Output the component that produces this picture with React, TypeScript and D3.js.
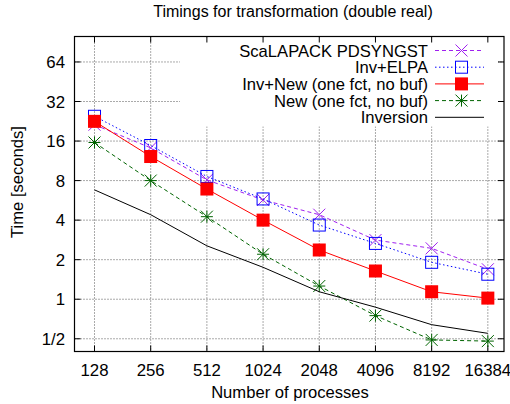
import React, { useEffect, useRef } from "react";
import * as d3 from "d3";

// processes (x values)
const procs = [128, 256, 512, 1024, 2048, 4096, 8192, 16384];

// timings in seconds
const scalapack = [21.3, 14.2, 8.1, 5.7, 4.4, 2.82, 2.44, 1.69];
const invElpa = [24.7, 14.8, 8.6, 5.8, 3.67, 2.66, 1.91, 1.55];
const invNew = [22.6, 12.2, 6.9, 4.0, 2.37, 1.64, 1.14, 1.02];
const newOnly = [15.6, 8.0, 4.25, 2.2, 1.26, 0.75, 0.49, 0.48];
const inversion = [6.8, 4.4, 2.55, 1.75, 1.14, 0.87, 0.64, 0.55];

const yTicks = [0.5, 1, 2, 4, 8, 16, 32, 64];
const yTickLabels = ["1/2", "1", "2", "4", "8", "16", "32", "64"];

interface Series {
  name: string;
  values: number[];
  color: string;
  dash: string | null;
  marker: "cross" | "box" | "fbox" | "star" | "none";
}

const series: Series[] = [
  { name: "ScaLAPACK PDSYNGST", values: scalapack, color: "#a020f0", dash: "4,3", marker: "cross" },
  { name: "Inv+ELPA", values: invElpa, color: "#0000ff", dash: "1.5,2.5", marker: "box" },
  { name: "Inv+New (one fct, no buf)", values: invNew, color: "#ff0000", dash: null, marker: "fbox" },
  { name: "New (one fct, no buf)", values: newOnly, color: "#006400", dash: "4,3", marker: "star" },
  { name: "Inversion", values: inversion, color: "#000000", dash: null, marker: "none" },
];

const W = 510;
const H = 404;
const FONT = "'Liberation Sans', Arial, sans-serif";

const drawMarker = (
  g: d3.Selection<SVGGElement, unknown, null, undefined>,
  kind: Series["marker"],
  x: number,
  y: number,
  color: string
) => {
  const r = 6;
  if (kind === "cross") {
    g.append("path")
      .attr("d", `M${x - r},${y - r}L${x + r},${y + r}M${x - r},${y + r}L${x + r},${y - r}`)
      .attr("stroke", color)
      .attr("fill", "none");
  } else if (kind === "box") {
    g.append("rect")
      .attr("x", x - r)
      .attr("y", y - r)
      .attr("width", 2 * r)
      .attr("height", 2 * r)
      .attr("stroke", color)
      .attr("fill", "none");
  } else if (kind === "fbox") {
    g.append("rect")
      .attr("x", x - 6.5)
      .attr("y", y - 6.5)
      .attr("width", 13)
      .attr("height", 13)
      .attr("fill", color);
  } else if (kind === "star") {
    g.append("path")
      .attr(
        "d",
        `M${x - r},${y - r}L${x + r},${y + r}M${x - r},${y + r}L${x + r},${y - r}M${x - r},${y}L${x + r},${y}M${x},${y - r}L${x},${y + r}`
      )
      .attr("stroke", color)
      .attr("fill", "none");
  }
};

const Chart: React.FC = () => {
  const ref = useRef<SVGSVGElement | null>(null);

  useEffect(() => {
    const left = 74.5;
    const right = 504;
    const top = 36.5;
    const bottom = 351.5;

    const x = d3.scaleLog().base(2).domain([100, 20000]).range([left, right]);
    const y = d3.scaleLog().base(2).domain([0.4, 100]).range([bottom, top]);

    const svg = d3.select(ref.current);
    svg.selectAll("*").remove();

    // grid
    const grid = svg.append("g").attr("stroke", "#555").attr("stroke-dasharray", "1,2").attr("stroke-width", 1);
    procs.forEach((p) => {
      grid.append("line").attr("x1", x(p)).attr("x2", x(p)).attr("y1", top).attr("y2", bottom);
    });
    yTicks.forEach((t) => {
      grid.append("line").attr("x1", left).attr("x2", right).attr("y1", y(t)).attr("y2", y(t));
    });

    // opaque key area
    svg.append("rect").attr("x", 180).attr("y", top + 1).attr("width", 318).attr("height", 89).attr("fill", "#fff");

    // ticks on all four sides
    const ticks = svg.append("g").attr("stroke", "#000").attr("stroke-width", 1);
    procs.forEach((p) => {
      ticks.append("line").attr("x1", x(p)).attr("x2", x(p)).attr("y1", bottom).attr("y2", bottom - 6);
      ticks.append("line").attr("x1", x(p)).attr("x2", x(p)).attr("y1", top).attr("y2", top + 6);
    });
    yTicks.forEach((t) => {
      ticks.append("line").attr("x1", left).attr("x2", left + 6).attr("y1", y(t)).attr("y2", y(t));
      ticks.append("line").attr("x1", right).attr("x2", right - 6).attr("y1", y(t)).attr("y2", y(t));
    });

    // tick labels
    svg
      .append("g")
      .selectAll("text")
      .data(procs)
      .join("text")
      .attr("x", (d) => x(d))
      .attr("y", 376)
      .attr("text-anchor", "middle")
      .attr("font-family", FONT)
      .attr("font-size", 16.8)
      .text((d) => String(d));

    svg
      .append("g")
      .selectAll("text")
      .data(yTicks)
      .join("text")
      .attr("x", 65)
      .attr("y", (d) => y(d) + 6)
      .attr("text-anchor", "end")
      .attr("font-family", FONT)
      .attr("font-size", 16.8)
      .text((_, i) => yTickLabels[i]);

    // series
    const lineGen = d3
      .line<number>()
      .x((_, i) => x(procs[i]))
      .y((d) => y(d));

    series.forEach((s) => {
      const g = svg.append("g");
      g.append("path")
        .attr("d", lineGen(s.values))
        .attr("fill", "none")
        .attr("stroke", s.color)
        .attr("stroke-width", 1)
        .attr("stroke-dasharray", s.dash);
      s.values.forEach((v, i) => drawMarker(g, s.marker, x(procs[i]), y(v), s.color));
    });

    // legend
    const legend = svg.append("g");
    series.forEach((s, i) => {
      const ly = 50.5 + i * 16.7;
      legend
        .append("text")
        .attr("x", 428)
        .attr("y", ly + 6)
        .attr("text-anchor", "end")
        .attr("font-family", FONT)
        .attr("font-size", 16.6)
        .text(s.name);
      legend
        .append("line")
        .attr("x1", 435)
        .attr("x2", 484)
        .attr("y1", ly)
        .attr("y2", ly)
        .attr("stroke", s.color)
        .attr("stroke-dasharray", s.dash);
      drawMarker(legend, s.marker, 461.5, ly, s.color);
    });

    // frame
    svg
      .append("rect")
      .attr("x", left)
      .attr("y", top)
      .attr("width", right - left)
      .attr("height", bottom - top)
      .attr("fill", "none")
      .attr("stroke", "#000")
      .attr("stroke-width", 1.2);

    // titles
    svg
      .append("text")
      .attr("x", 293)
      .attr("y", 17)
      .attr("text-anchor", "middle")
      .attr("font-family", FONT)
      .attr("font-size", 16)
      .text("Timings for transformation (double real)");

    svg
      .append("text")
      .attr("x", 290)
      .attr("y", 398)
      .attr("text-anchor", "middle")
      .attr("font-family", FONT)
      .attr("font-size", 16.6)
      .text("Number of processes");

    svg
      .append("text")
      .attr("transform", "translate(23,182) rotate(-90)")
      .attr("text-anchor", "middle")
      .attr("font-family", FONT)
      .attr("font-size", 16.6)
      .text("Time [seconds]");
  }, []);

  return <svg ref={ref} width={W} height={H} style={{ position: "absolute", left: 0, top: 0, background: "#fff" }}></svg>;
};

export default function App() {
  return <Chart />;
}
